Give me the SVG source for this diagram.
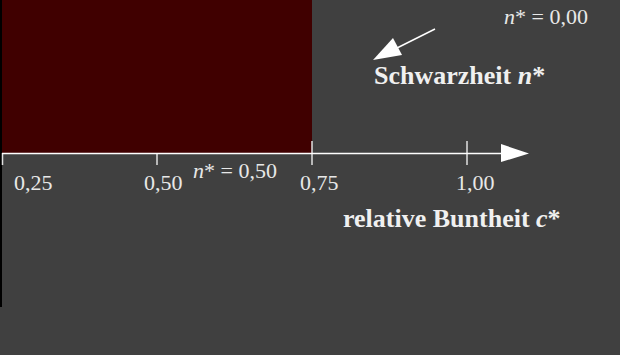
<svg xmlns="http://www.w3.org/2000/svg" width="620" height="355" viewBox="0 0 620 355">
<style>
.t{font-family:"Liberation Serif","Times New Roman",serif;fill:#e8e8e8;font-size:22px}
.b{font-family:"Liberation Serif","Times New Roman",serif;fill:#f0f0f0;font-size:26px;font-weight:bold}
.ax{stroke:#ffffff;stroke-width:1.5;fill:none}
.tk{stroke:#e0e0e0;stroke-width:1.5}
</style>
<rect width="620" height="355" fill="#404040"/>
<rect x="0" y="0" width="2" height="307" fill="#000000"/>
<g id="field"><rect x="2" y="0" width="310" height="153" fill="#400000"/></g>
<g id="axis">
<line class="tk" x1="312" y1="141" x2="312" y2="165"/>
<line class="tk" x1="467" y1="141" x2="467" y2="165"/>
<line class="tk" x1="2.5" y1="153" x2="2.5" y2="165"/>
<line class="tk" x1="157" y1="153" x2="157" y2="165"/>
<line class="ax" x1="2" y1="153.5" x2="503" y2="153.5"/>
<polygon points="501,144 529,153.5 501,162" fill="#ffffff"/>
</g>
<g id="labels">
<text class="t" x="14" y="190">0,25</text>
<text class="t" x="144" y="190">0,50</text>
<text class="t" x="300" y="190">0,75</text>
<text class="t" x="456" y="190">1,00</text>
<text class="t" x="193" y="178"><tspan font-style="italic">n</tspan>* = 0,50</text>
<text class="t" x="504" y="24"><tspan font-style="italic">n</tspan>* = 0,00</text>
<text class="b" x="343" y="227">relative Buntheit <tspan font-style="italic">c</tspan>*</text>
<text class="b" x="374" y="84">Schwarzheit <tspan font-style="italic">n</tspan>*</text>
</g>
<g id="connectors">
<line x1="435" y1="29" x2="395" y2="49" stroke="#ffffff" stroke-width="1.5"/>
<polygon points="373,60 393,38 402,55" fill="#ffffff"/>
</g>
</svg>
